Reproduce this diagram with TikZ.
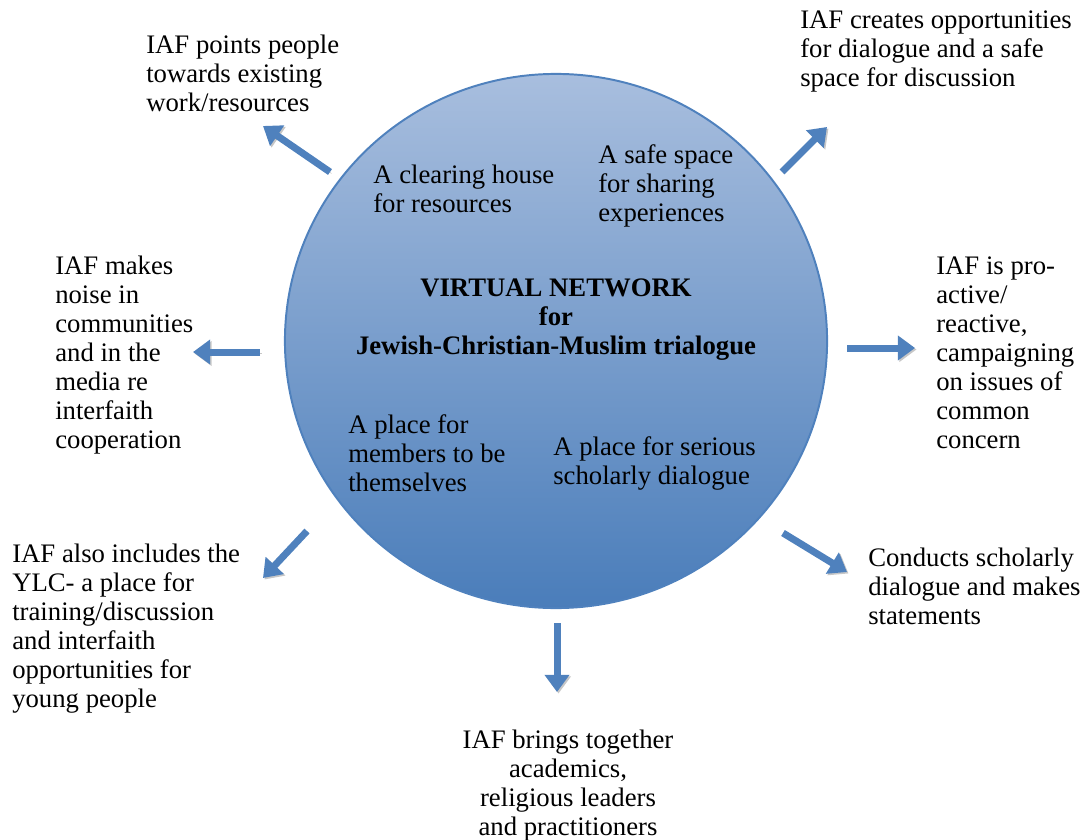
\documentclass[tikz,border=0pt]{standalone}
\usepackage{fontspec}
\setmainfont{Liberation Serif}
\usepackage{tikz}
\usetikzlibrary{arrows.meta, shapes.geometric}
\definecolor{hubtop}{RGB}{168,190,222}
\definecolor{hubbottom}{RGB}{74,125,186}
\definecolor{hubedge}{RGB}{79,129,189}
\definecolor{arrowblue}{RGB}{79,129,189}

\begin{document}
\begin{tikzpicture}[x=0.025cm, y=-0.025cm,
		blockarrow/.style={draw=arrowblue, line width=0.175cm, -{Triangle[width=0.6cm, length=0.43cm]},
			preaction={draw=black!22, transform canvas={shift={(1.5,1.5)}}}}]
		\useasboundingbox (0,0) rectangle (1083,840);
		
		\node[ellipse, minimum width=13.55cm, minimum height=13.35cm, inner sep=0,
			top color=hubtop, bottom color=hubbottom, draw=hubedge, line width=1.4pt] (hub) at (556,341) {};
		
		\begin{scope}[every node/.style={align=left, anchor=north west, inner sep=0, font=\fontsize{19}{20.6}\selectfont}]
		\node (points) at (146,35) {IAF points people\\towards existing\\work/resources};
		\node (creates) at (800,11) {IAF creates opportunities\\for dialogue and a safe\\space for discussion};
		\node (noise) at (55,256) {IAF makes\\noise in\\communities\\and in the\\media re\\interfaith\\cooperation};
		\node (campaign) at (936,257) {IAF is pro-\\active/\\reactive,\\campaigning\\on issues of\\common\\concern};
		\node (ylc) at (12,544) {IAF also includes the\\YLC- a place for\\training/discussion\\and interfaith\\opportunities for\\young people};
		\node (statements) at (868,548) {Conducts scholarly\\dialogue and makes\\statements};
		\node[align=center, anchor=north] (together) at (568,730) {IAF brings together\\academics,\\religious leaders\\and practitioners};
		
		\node (clearing) at (373,165) {A clearing house\\for resources};
		\node (safe) at (598,144) {A safe space\\for sharing\\experiences};
		\node[align=center, anchor=north, font=\fontsize{19}{20.6}\selectfont\bfseries] (title) at (556,279) {VIRTUAL NETWORK\\for\\Jewish-Christian-Muslim trialogue};
		\node (members) at (348,414) {A place for\\members to be\\themselves};
		\node (serious) at (553,436) {A place for serious\\scholarly dialogue};
		\end{scope}
		
		\coordinate (pointsFrom) at (330,172);
		\coordinate (pointsTo) at (263,126);
		\coordinate (createsFrom) at (782,172);
		\coordinate (createsTo) at (827,127);
		\coordinate (noiseFrom) at (260,352);
		\coordinate (noiseTo) at (193,352);
		\coordinate (campaignFrom) at (847,348);
		\coordinate (campaignTo) at (915,348);
		\coordinate (ylcFrom) at (307,531);
		\coordinate (ylcTo) at (263,578);
		\coordinate (statementsFrom) at (783,533);
		\coordinate (statementsTo) at (847,572);
		\coordinate (togetherFrom) at (557,623);
		\coordinate (togetherTo) at (557,692);
		
		\draw[blockarrow] (pointsFrom) -- (pointsTo);
		\draw[blockarrow] (createsFrom) -- (createsTo);
		\draw[blockarrow] (noiseFrom) -- (noiseTo);
		\draw[blockarrow] (campaignFrom) -- (campaignTo);
		\draw[blockarrow] (ylcFrom) -- (ylcTo);
		\draw[blockarrow] (statementsFrom) -- (statementsTo);
		\draw[blockarrow] (togetherFrom) -- (togetherTo);
		
		\end{tikzpicture}
\end{document}
